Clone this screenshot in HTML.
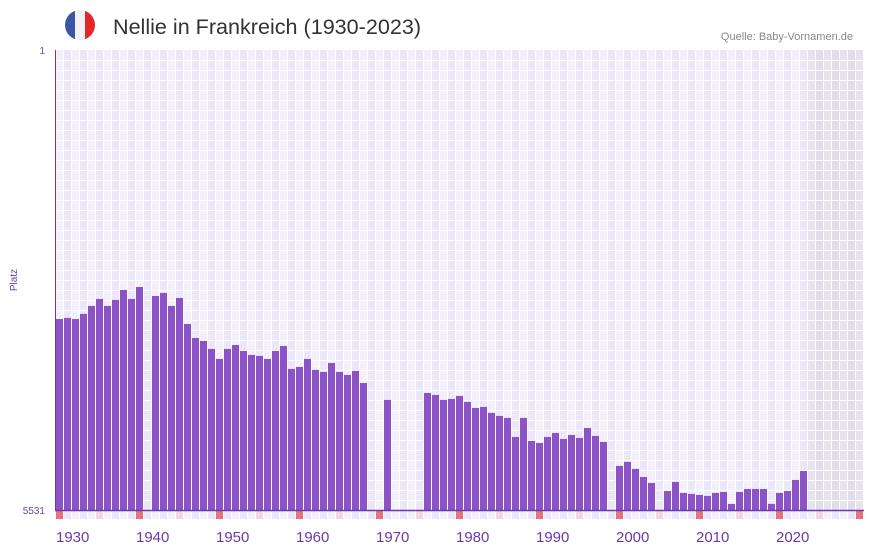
<!DOCTYPE html>
<html><head><meta charset="utf-8"><style>
html,body{margin:0;padding:0;background:#fff;}
svg{display:block;font-family:"Liberation Sans",sans-serif;}
</style></head><body>
<svg id="chart" width="873" height="552" viewBox="0 0 873 552" xmlns="http://www.w3.org/2000/svg">
<g>
  <defs><clipPath id="fc"><circle cx="80" cy="25" r="15"/></clipPath></defs>
  <g clip-path="url(#fc)">
    <rect x="65" y="10" width="10" height="30" fill="#3a56a5"/>
    <rect x="75" y="10" width="10" height="30" fill="#f2f2f4"/>
    <rect x="85" y="10" width="10" height="30" fill="#e5252b"/>
  </g>
  <text x="113" y="34" font-size="21" fill="#333" textLength="308" lengthAdjust="spacingAndGlyphs">Nellie in Frankreich (1930-2023)</text>
  <text x="853" y="40" font-size="11" fill="#888" text-anchor="end">Quelle: Baby-Vornamen.de</text>
</g>
<g id="grid"></g>
<g id="bars"></g>
<g id="axes">
  <text x="45" y="54" font-size="10" fill="#6a4a9a" text-anchor="end">1</text>
  <text x="45" y="514" font-size="10" fill="#6a4a9a" text-anchor="end">5531</text>
  <text transform="translate(17,280) rotate(-90)" font-size="10" fill="#6a3aa8" text-anchor="middle">Platz</text>
</g>
</svg>
<script>
const startYear = 1930;
const endYear = 2030;
const rankMin = 1;
const rankMax = 5531;
const years = [];
for (let y = 1930; y <= 2023; y++) years.push(y);
const ranks = [
3235,3222,3235,3174,3078,2994,3078,3006,2886,2994,
2850,null,2958,2922,3078,2982,3295,3463,3499,3595,
3715,3595,3547,3619,3667,3679,3715,3619,3559,3835,
3811,3715,3847,3871,3763,3871,3907,3859,4004,null,
null,4208,null,null,null,null,4124,4148,4208,4196,
4160,4232,4304,4292,4364,4400,4424,4653,4424,4701,
4725,4653,4605,4677,4629,4665,4545,4641,4713,null,
5001,4953,5037,5134,5206,null,5302,5194,5326,5338,
5350,5362,5326,5314,5458,5314,5278,5278,5278,5458,
5326,5302,5170,5062
];
const tickYears = [1930,1940,1950,1960,1970,1980,1990,2000,2010,2020];

const NS = "http://www.w3.org/2000/svg";
const x0 = 56, colW = 8, yTop = 50, yBot = 510;
const xScale = yr => x0 + (yr - startYear) * colW;
const yScale = r => yTop + (r - rankMin) / (rankMax - rankMin) * (yBot - yTop);
function mk(tag, attrs, parent) {
  const e = document.createElementNS(NS, tag);
  for (const k in attrs) e.setAttribute(k, attrs[k]);
  parent.appendChild(e); return e;
}
const grid = document.getElementById('grid');
const nCols = endYear - startYear + 1;
for (let i = 0; i < nCols; i++) {
  const yr = startYear + i;
  const shaded = yr > 2023;
  const c = mk('rect', {x: x0 + i*colW, y: yTop, width: colW, height: yBot - yTop,
    fill: shaded ? (i%2 ? '#e2ddeb' : '#e6e2ee') : (i%2 ? '#ece7f8' : '#f3f0fb')}, grid);
  
  
  let mf = i%2 ? '#ece7f8' : '#f3f0fb';
  if (yr % 10 === 0) mf = '#e8727a'; else if (yr % 5 === 0) mf = '#f5d5df';
  const m = mk('rect', {x: x0 + i*colW, y: 511, width: colW, height: 8, fill: mf}, grid);
  
  
}
for (let i = 0; i <= nCols; i++) {
  mk('line', {x1: x0 + i*colW - 0.5, x2: x0 + i*colW - 0.5, y1: yTop, y2: 519, stroke: '#fff', 'stroke-width': 1}, grid);
}
for (let y = yTop + 10; y < yBot; y += 10) {
  mk('line', {x1: x0, x2: x0 + nCols*colW, y1: y + 0.5, y2: y + 0.5, stroke: '#fff', 'stroke-width': 1}, grid);
}
const bars = document.getElementById('bars');
years.forEach((yr, i) => {
  const r = ranks[i];
  if (r == null) return;
  const yt = yScale(r);
  const b = mk('rect', {x: xScale(yr), y: yt, width: colW - 1, height: yBot - yt, fill: '#8c53c6'}, bars);
  
  
});
const axes = document.getElementById('axes');
mk('line', {x1: 55.5, x2: 55.5, y1: yTop, y2: yBot + 1, stroke: '#6a3aa8', 'stroke-width': 1}, axes);
mk('line', {x1: 55, x2: 864, y1: 510.5, y2: 510.5, stroke: '#6a3aa8', 'stroke-width': 1.5}, axes);
tickYears.forEach(yr => {
  const t = mk('text', {x: xScale(yr), y: 542, 'font-size': 15, fill: '#6a3aa8'}, axes);
  
  
  t.textContent = yr;
});
</script>
</body></html>
